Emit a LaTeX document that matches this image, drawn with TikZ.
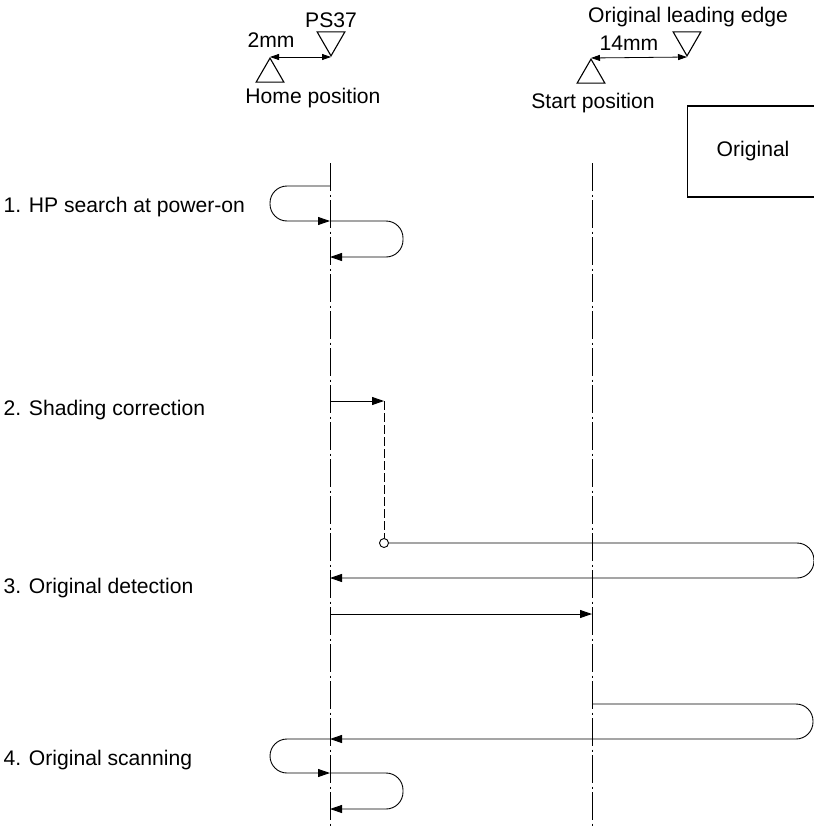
\documentclass[tikz,border=0pt]{standalone}
\usepackage{fontspec}
\setmainfont{Liberation Sans}
\usetikzlibrary{positioning, shapes.geometric, arrows.meta}

\begin{document}
\begin{tikzpicture}[x=1bp, y=-1bp,
        every node/.style={font=\fontsize{21.2}{25}\selectfont},
        axis/.style={line width=0.8bp, dash pattern=on 28bp off 3.5bp on 2bp off 3.5bp},
        move/.style={line width=0.9bp, rounded corners=17bp},
        arr/.style={-{Triangle[length=12bp, width=8bp]}},
        tri/.style={regular polygon, regular polygon sides=3, draw, line width=1.1bp, minimum size=32bp, inner sep=0pt},
        dim/.style={{Triangle[length=9bp, width=6bp]}-{Triangle[length=9bp, width=6bp]}, line width=0.8bp},
    ]
        \useasboundingbox (0,0) rectangle (814,826);

        % Positions at the top
        \node[tri, anchor=corner 1] (homeTri) at (270,57) {};
        \node[tri, shape border rotate=180, anchor=corner 1] (psTri) at (331,57) {};
        \node[anchor=base] (ps37) at (331,27) {PS37};
        \node[anchor=base] (twomm) at (271,47) {2mm};
        \node[anchor=base] (home) at (313,103) {Home position};
        \draw[dim] (homeTri.corner 1) -- (psTri.corner 1);

        \node[tri, anchor=corner 1] (startTri) at (591,58) {};
        \node[tri, shape border rotate=180, anchor=corner 1] (edgeTri) at (687,57) {};
        \node[anchor=base] (edge) at (688,22) {Original leading edge};
        \node[anchor=base] (fourteen) at (629,50) {14mm};
        \node[anchor=base] (start) at (593,108) {Start position};
        \draw[dim] (startTri.corner 1) -- (edgeTri.corner 1);

        \node[draw, line width=1.1bp, anchor=west, minimum width=140bp, minimum height=91bp]
            (orig) at (687,151.5) {Original\hspace*{9bp}};

        % Axes
        \coordinate (hpTop) at (330,163);
        \coordinate (hpBot) at (330,826);
        \coordinate (spTop) at (592,163);
        \coordinate (spBot) at (592,826);
        \draw[axis] (hpTop) -- (hpBot);
        \draw[axis] (spTop) -- (spBot);

        % Steps
        \node[anchor=base west] (step1) at (0,212) {1. HP search at power-on};
        \node[anchor=base west] (step2) at (0,415) {2. Shading correction};
        \node[anchor=base west] (step3) at (0,593) {3. Original detection};
        \node[anchor=base west] (step4) at (0,765) {4. Original scanning};

        % 1. HP search
        \coordinate (a1) at (330,186);
        \coordinate (a2) at (330,221);
        \coordinate (a3) at (330,257);
        \draw[move, arr] (a1) -- ++(-60,0) -- ++(0,35) -- (a2);
        \draw[move, arr] (a2) -- ++(73,0) -- ++(0,36) -- (a3);

        % 2. Shading correction
        \coordinate (b1) at (330,401);
        \coordinate (b2) at (384,401);
        \coordinate (b3) at (330,578);
        \node[circle, draw, line width=0.9bp, inner sep=0pt, minimum size=9bp] (lamp) at (384,543) {};
        \draw[move, arr] (b1) -- (b2);
        \draw[line width=0.9bp, dash pattern=on 9bp off 3bp] (b2) -- (lamp.north);
        \draw[move, arr] (lamp.east) -- ++(425,0) -- ++(0,35) -- (b3);

        % 3. Original detection
        \coordinate (c1) at (330,614);
        \coordinate (c2) at (592,614);
        \draw[move, arr] (c1) -- (c2);

        % 4. Original scanning
        \coordinate (d1) at (592,704);
        \coordinate (d2) at (330,739);
        \coordinate (d3) at (330,773);
        \coordinate (d4) at (330,809);
        \draw[move, arr] (d1) -- ++(221,0) -- ++(0,35) -- (d2);
        \draw[move, arr] (d2) -- ++(-60,0) -- ++(0,34) -- (d3);
        \draw[move, arr] (d3) -- ++(73,0) -- ++(0,36) -- (d4);
    \end{tikzpicture}
\end{document}
